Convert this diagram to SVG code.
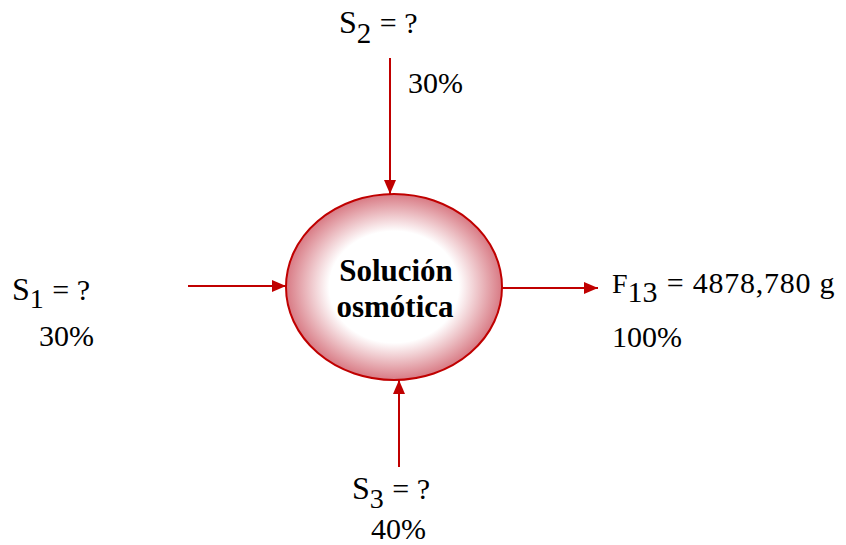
<svg xmlns="http://www.w3.org/2000/svg" width="846" height="545" viewBox="0 0 846 545">
<defs>
<radialGradient id="g" cx="50%" cy="50%" r="50%">
<stop offset="0" stop-color="#ffffff"/>
<stop offset="0.6" stop-color="#ffffff"/>
<stop offset="1" stop-color="#d87a84"/>
</radialGradient>
<marker id="a" viewBox="0 0 14 12" refX="14" refY="6" markerWidth="14" markerHeight="12" markerUnits="userSpaceOnUse" orient="auto">
<path d="M0,0L14,6L0,12z" fill="#c00000"/>
</marker>
</defs>
<g id="connectors" stroke="#c00000" stroke-width="2" fill="none">
<line x1="188" y1="286" x2="286" y2="286" marker-end="url(#a)"/>
<line x1="390" y1="58" x2="390" y2="194" marker-end="url(#a)"/>
<line x1="399" y1="467" x2="399" y2="380" marker-end="url(#a)"/>
<line x1="502" y1="288" x2="598" y2="288" marker-end="url(#a)"/>
</g>
<g font-family="'Liberation Serif', 'Times New Roman', serif" fill="#000">
<g id="node-solucion">
<ellipse cx="394" cy="287" rx="108" ry="93" fill="url(#g)" stroke="#c00000" stroke-width="2"/>
<text x="396" y="281" font-size="31" font-weight="bold" text-anchor="middle">Solución</text>
<text x="395" y="317" font-size="31" font-weight="bold" text-anchor="middle">osmótica</text>
</g>
<g id="node-s1">
<text x="12" y="300" font-size="32">S<tspan font-size="28" dy="8">1</tspan><tspan font-size="30" dy="-8" dx="1"> = ?</tspan></text>
<text x="39" y="346" font-size="30">30%</text>
</g>
<g id="node-s2">
<text x="339" y="33" font-size="32">S<tspan font-size="29" dy="10">2</tspan><tspan font-size="30" dy="-10" dx="1"> = ?</tspan></text>
<text x="408" y="93" font-size="30">30%</text>
</g>
<g id="node-s3">
<text x="352" y="499" font-size="32">S<tspan font-size="28" dy="9">3</tspan><tspan font-size="30" dy="-9" dx="1"> = ?</tspan></text>
<text x="371" y="539" font-size="30">40%</text>
</g>
<g id="node-f13">
<text x="612" y="293" font-size="28">F<tspan font-size="30" dy="9">13</tspan><tspan font-size="30" dy="-9" textLength="176" dx="1"> = 4878,780 g</tspan></text>
<text x="612" y="347" font-size="30">100%</text>
</g>
</g>
</svg>
